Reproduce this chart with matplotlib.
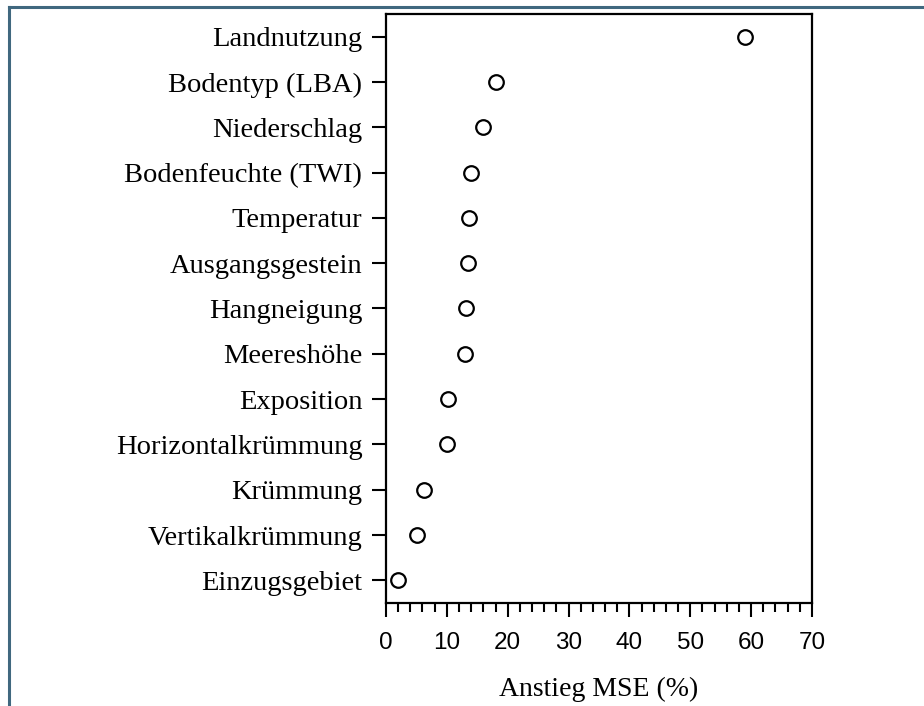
import matplotlib.pyplot as plt
from matplotlib.lines import Line2D
from matplotlib.ticker import MultipleLocator

variables = ["Landnutzung", "Bodentyp (LBA)", "Niederschlag", "Bodenfeuchte (TWI)",
             "Temperatur", "Ausgangsgestein", "Hangneigung", "Meereshöhe",
             "Exposition", "Horizontalkrümmung", "Krümmung", "Vertikalkrümmung",
             "Einzugsgebiet"]
mse_increase = [59.0, 18.0, 16.0, 14.0, 13.6, 13.4, 13.1, 13.0, 10.2, 10.0, 6.2, 5.1, 2.0]

fig = plt.figure(figsize=(9.24, 7.06), dpi=100)
ax = fig.add_axes([0.4177, 0.1459, 0.8788 - 0.4177, 0.9802 - 0.1459])

n = len(variables)
ypos = [n - i for i in range(n)]
ax.plot(mse_increase, ypos, linestyle="none", marker="o", markersize=10.5,
        markerfacecolor="white", markeredgecolor="black", markeredgewidth=1.6)

ax.set_xlim(0, 70)
ax.set_ylim(0.5, n + 0.5)
ax.set_yticks(ypos)
ax.set_yticklabels(variables, fontfamily="Liberation Serif", fontsize=20.5)
ax.xaxis.set_major_locator(MultipleLocator(10))
ax.xaxis.set_minor_locator(MultipleLocator(2))
for lab in ax.get_xticklabels():
    lab.set_fontfamily("Liberation Sans")
    lab.set_fontsize(17.5)

ax.tick_params(axis="y", length=10, width=1.5, pad=7)
ax.tick_params(axis="x", which="major", length=10, width=1.5, pad=11)
ax.tick_params(axis="x", which="minor", length=6.5, width=1.5)
for s in ax.spines.values():
    s.set_linewidth(1.6)

ax.set_xlabel("Anstieg MSE (%)", fontfamily="Liberation Serif", fontsize=20, labelpad=16)

# Rahmen oben und links
border = "#40687f"
fig.add_artist(Line2D([0.0095, 1.0], [1 - 6.5 / 706, 1 - 6.5 / 706], color=border, lw=2.2,
                      transform=fig.transFigure))
fig.add_artist(Line2D([0.0095, 0.0095], [0.0, 1 - 6.5 / 706], color=border, lw=2.2,
                      transform=fig.transFigure))

fig.savefig("out.png", dpi=100)
